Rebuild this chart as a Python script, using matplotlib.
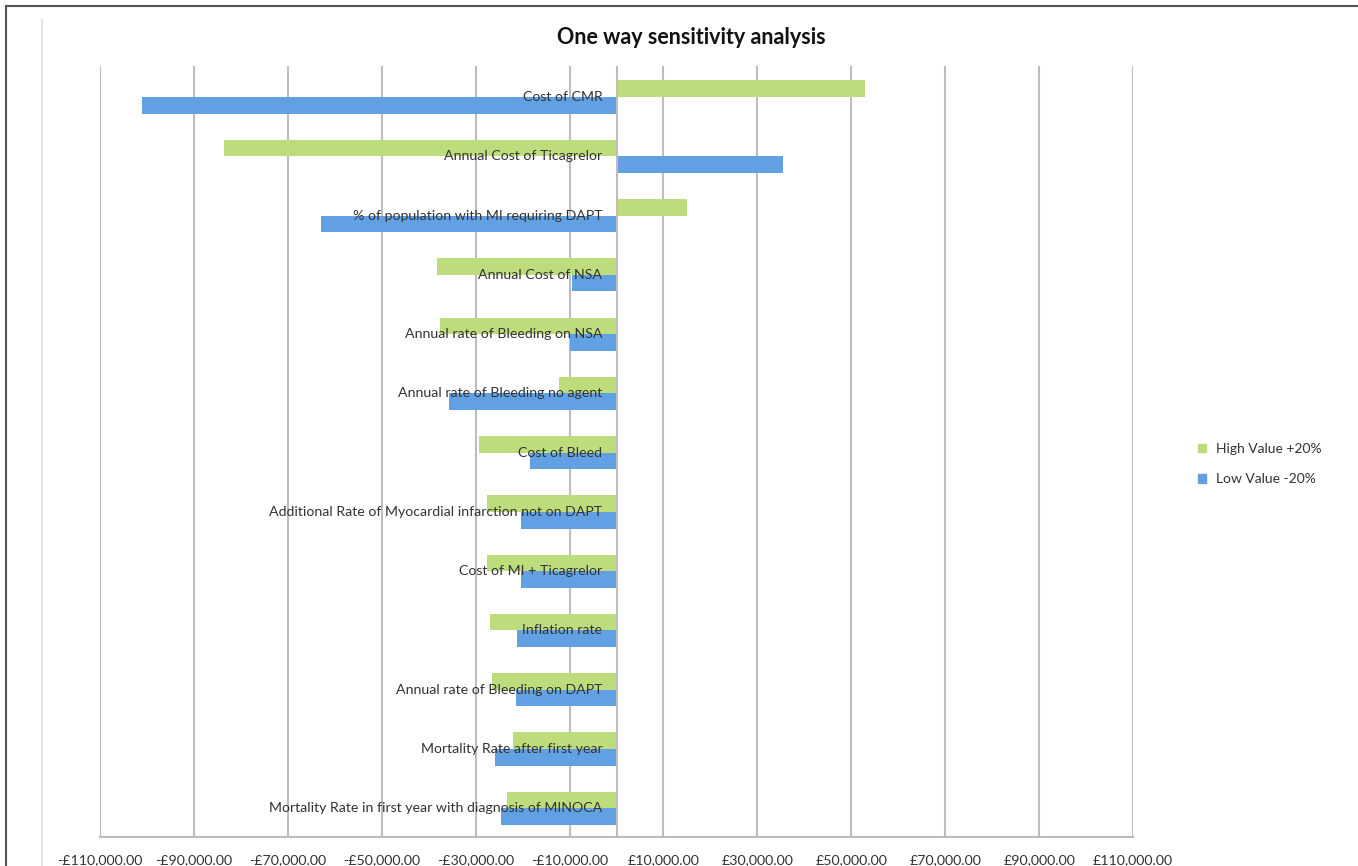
import matplotlib.pyplot as plt
from matplotlib.lines import Line2D
from matplotlib.patches import Patch
from matplotlib.transforms import ScaledTranslation
from matplotlib.ticker import FuncFormatter

# parameters, top to bottom as in the chart
parameters = [
    "Cost of CMR",
    "Annual Cost of Ticagrelor",
    "% of population with MI requiring DAPT",
    "Annual Cost of NSA",
    "Annual rate of Bleeding on NSA",
    "Annual rate of Bleeding no agent",
    "Cost of Bleed",
    "Additional Rate of Myocardial infarction not on DAPT",
    "Cost of MI + Ticagrelor",
    "Inflation rate",
    "Annual rate of Bleeding on DAPT",
    "Mortality Rate after first year",
    "Mortality Rate in first year with diagnosis of MINOCA",
]

# change in result (GBP) for +20% / -20% on each parameter
highValue = [53000, -83500, 15000, -38300, -37600, -12200, -29300,
             -27600, -27600, -26900, -26500, -22100, -23400]
lowValue = [-101000, 35400, -63000, -9500, -10000, -35700, -18400,
            -20300, -20300, -21200, -21400, -25900, -24600]

xTicks = [-110000, -90000, -70000, -50000, -30000, -10000,
          10000, 30000, 50000, 70000, 90000, 110000]

greenColour = "#bddd7c"
blueColour = "#62a0e4"
gridColour = "#bdbdbd"
textColour = "#333333"

plt.rcParams['font.family'] = ['Lato', 'DejaVu Sans']


def poundFormat(value, pos):
    if value < 0:
        return f"-£{abs(value):,.2f}"
    return f"£{value:,.2f}"


fig = plt.figure(figsize=(13.58, 8.66), dpi=100)
ax = fig.add_axes([100 / 1358, 1 - 837 / 866, 1033 / 1358, 771 / 866])

barHeight = 0.28
positions = list(range(len(parameters)))
ax.barh([p - barHeight / 2 for p in positions], highValue, height=barHeight,
        color=greenColour, label="High Value +20%", zorder=3)
ax.barh([p + barHeight / 2 for p in positions], lowValue, height=barHeight,
        color=blueColour, label="Low Value -20%", zorder=3)

ax.set_xlim(-110000, 110000)
ax.set_ylim(12.484, -0.523)
ax.set_xticks(xTicks)
ax.xaxis.set_major_formatter(FuncFormatter(poundFormat))
ax.set_yticks([])
ax.tick_params(axis='x', length=0, pad=12, labelsize=10.2, labelcolor=textColour)
ax.grid(axis='x', color=gridColour, linewidth=1.5, zorder=0)
ax.axvline(0, color=gridColour, linewidth=1.5, zorder=4)

for side in ['top', 'right', 'left']:
    ax.spines[side].set_visible(False)
ax.spines['bottom'].set_color(gridColour)
ax.spines['bottom'].set_linewidth(1.5)

# category labels sit just left of the zero line, over the bars
labelShift = ax.transData + ScaledTranslation(-0.14, 0, fig.dpi_scale_trans)
for pos, name in zip(positions, parameters):
    ax.text(0, pos, name, transform=labelShift, ha='right', va='center',
            fontsize=10.2, color=textColour, zorder=5)

fig.text(691 / 1358, 1 - 38 / 866, "One way sensitivity analysis",
         ha='center', va='center', fontsize=15.5, fontweight='bold', color='#111111')

handles = [Patch(color=greenColour, label="High Value +20%"),
           Patch(color=blueColour, label="Low Value -20%")]
fig.legend(handles=handles, loc='center left',
           bbox_to_anchor=(1185 / 1358, 1 - 464 / 866), frameon=False,
           handlelength=0.6, handleheight=0.6, handletextpad=0.7,
           labelspacing=1.3, fontsize=10, labelcolor=textColour)

# frame of the original screenshot
fig.add_artist(Line2D([6 / 1358, 6 / 1358], [0, 1 - 6 / 866], color='#555555', linewidth=1.5))
fig.add_artist(Line2D([6 / 1358, 1], [1 - 6 / 866, 1 - 6 / 866], color='#555555', linewidth=1.5))
fig.add_artist(Line2D([42 / 1358, 42 / 1358], [0, 1 - 20 / 866], color='#dddddd', linewidth=1.2))

fig.savefig("out.png", dpi=100)
